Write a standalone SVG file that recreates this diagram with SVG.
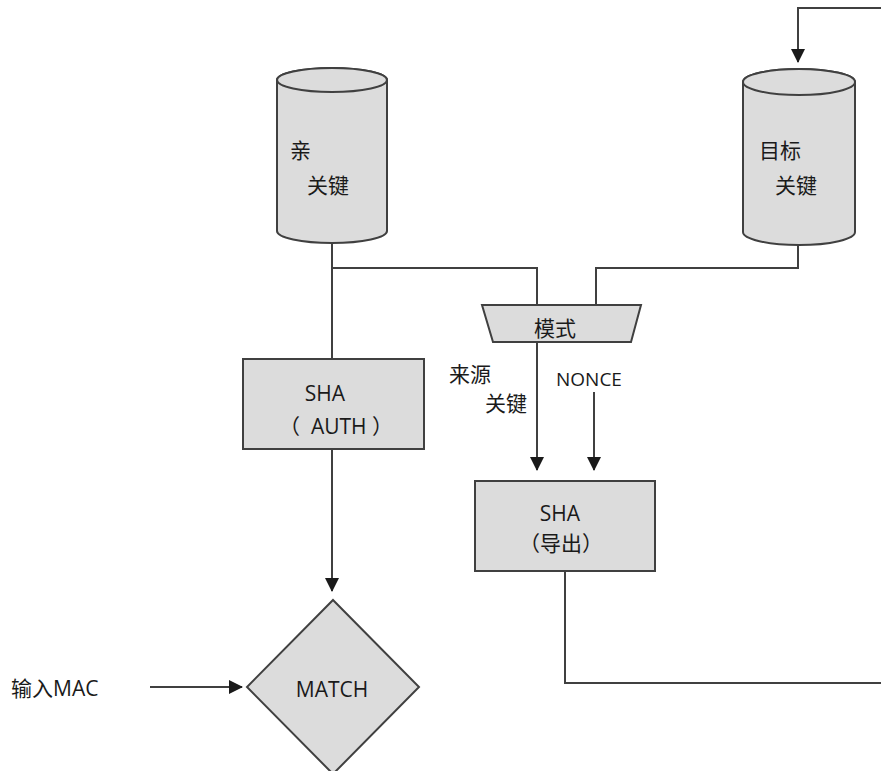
<svg xmlns="http://www.w3.org/2000/svg" width="881" height="771" viewBox="0 0 881 771">
<defs>
<marker id="arr" markerWidth="14" markerHeight="14" refX="13" refY="7" orient="auto" markerUnits="userSpaceOnUse" viewBox="0 0 14 14">
<path d="M0,0 L14,7 L0,14 Z" fill="#1a1a1a"/>
</marker>
<style>
.shape{fill:#dcdcdc;stroke:#404040;stroke-width:2}
.line{fill:none;stroke:#404040;stroke-width:2}
.t{font-family:"Open Sans","Noto Sans CJK SC",sans-serif;font-size:21px;fill:#1a1a1a}
.c{text-anchor:middle}
</style>
</defs>
<rect width="881" height="771" fill="#ffffff"/>
<g id="connectors">
<path class="line" d="M881,8 H798 V62" marker-end="url(#arr)"/>
<path class="line" d="M332,243 V358"/>
<path class="line" d="M332,268 H537 V305"/>
<path class="line" d="M798,243 V268 H596 V305"/>
<path class="line" d="M537,343 V470" marker-end="url(#arr)"/>
<path class="line" d="M594,392 V470" marker-end="url(#arr)"/>
<path class="line" d="M332,449 V591" marker-end="url(#arr)"/>
<path class="line" d="M150,687 H242" marker-end="url(#arr)"/>
<path class="line" d="M565,571 V683 H881"/>
</g>
<g id="parent-key">
<path class="shape" d="M277,80 V231 A55,12 0 0 0 387,231 V80 A55,12 0 0 0 277,80 Z"/>
<ellipse class="shape" cx="332" cy="80" rx="55" ry="12"/>
<text class="t" x="290" y="158">亲</text>
<text class="t" x="307" y="193">关键</text>
</g>
<g id="target-key">
<path class="shape" d="M743,82 V232 A56,13 0 0 0 855,232 V82 A56,13 0 0 0 743,82 Z"/>
<ellipse class="shape" cx="799" cy="82" rx="56" ry="13"/>
<text class="t" x="759" y="158">目标</text>
<text class="t" x="775" y="193">关键</text>
</g>
<g id="mode">
<path class="shape" d="M482,305 H641 L631,342 H493 Z"/>
<text class="t c" x="555" y="336">模式</text>
</g>
<g id="labels">
<text class="t" x="449" y="382">来源</text>
<text class="t" x="485" y="411">关键</text>
<text class="t" x="556" y="386" style="font-size:19px">NONCE</text>
<text class="t" x="11" y="696">输入MAC</text>
</g>
<g id="sha-auth">
<rect class="shape" x="243" y="359" width="181" height="90"/>
<text class="t c" x="325" y="401">SHA</text>
<text class="t" x="279" y="434" xml:space="preserve">（  AUTH ）</text>
</g>
<g id="sha-export">
<rect class="shape" x="475" y="481" width="180" height="90"/>
<text class="t c" x="560" y="521">SHA</text>
<text class="t c" x="561" y="551">（导出）</text>
</g>
<g id="match">
<path class="shape" d="M333,600 L419,687 L333,774 L247,687 Z"/>
<text class="t c" x="332" y="697">MATCH</text>
</g>
</svg>
